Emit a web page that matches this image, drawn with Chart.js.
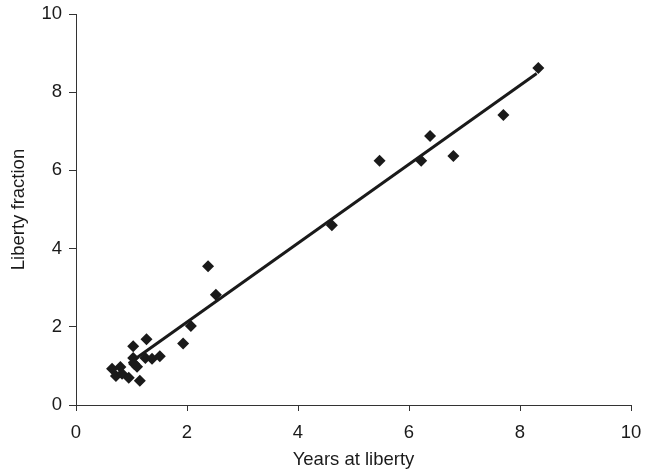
<!DOCTYPE html>
<html>
<head>
<meta charset="utf-8">
<script src="https://cdn.jsdelivr.net/npm/chart.js@4"></script>
<style>
  html, body { margin: 0; padding: 0; background: #fff; }
  #wrap { width: 659px; height: 475px; }
</style>
</head>
<body>
<div id="wrap"><canvas id="c" width="659" height="475"></canvas></div>
<script>
// observed points: years at liberty vs liberty fraction
const yearsX = [0.65, 0.72, 0.80, 0.83, 0.95, 1.03, 1.03, 1.05, 1.10, 1.15, 1.27, 1.25, 1.37, 1.51,
  1.93, 2.07, 2.38, 2.52, 4.61, 5.47, 6.22, 6.38, 6.80, 7.70, 8.33];
const fractionY = [0.93, 0.74, 0.97, 0.80, 0.70, 1.50, 1.20, 1.05, 0.98, 0.62, 1.68, 1.20, 1.18, 1.25,
  1.57, 2.02, 3.55, 2.82, 4.60, 6.25, 6.25, 6.88, 6.37, 7.42, 8.62];

// fitted line end points
const trendX = [0.95, 8.30];
const trendY = [1.06, 8.48];

const axisTicks = [0, 2, 4, 6, 8, 10];

const ink = "#1a1a1a";
const axisColor = "#333";
const font = { family: "Liberation Sans, Arial, sans-serif", size: 18.5 };

const points = yearsX.map((x, i) => ({ x: x, y: fractionY[i] }));
const trend = trendX.map((x, i) => ({ x: x, y: trendY[i] }));

new Chart(document.getElementById("c"), {
  type: "scatter",
  data: {
    datasets: [
      {
        label: "Observed",
        data: points,
        pointStyle: "rectRot",
        pointRadius: 6,
        pointBackgroundColor: ink,
        pointBorderColor: ink,
        pointBorderWidth: 0,
        order: 2,
      },
      {
        label: "Fit",
        type: "line",
        data: trend,
        borderColor: ink,
        borderWidth: 3,
        pointRadius: 0,
        fill: false,
        order: 1,
      },
    ],
  },
  options: {
    responsive: false,
    animation: false,
    layout: { padding: { top: 14, right: 28, bottom: 0, left: 0 } },
    plugins: { legend: { display: false }, tooltip: { enabled: false } },
    scales: {
      x: {
        type: "linear",
        min: 0,
        max: 10,
        afterBuildTicks: (s) => { s.ticks = axisTicks.map((v) => ({ value: v })); },
        afterFit: (s) => { s.height = 70; s.paddingLeft = 0; s.paddingRight = 0; },
        grid: { drawOnChartArea: false, drawTicks: true, tickLength: 6, color: axisColor },
        border: { display: true, color: axisColor, width: 1 },
        ticks: { color: ink, font: font, padding: 11, maxRotation: 0 },
        title: { display: true, text: "Years at liberty", color: ink, font: font, padding: { top: 0, bottom: 4 } },
      },
      y: {
        type: "linear",
        min: 0,
        max: 10,
        afterBuildTicks: (s) => { s.ticks = axisTicks.map((v) => ({ value: v })); },
        afterFit: (s) => { s.width = 76; s.paddingTop = 0; s.paddingBottom = 0; },
        grid: { drawOnChartArea: false, drawTicks: true, tickLength: 7, color: axisColor },
        border: { display: true, color: axisColor, width: 1 },
        ticks: { color: ink, font: font, padding: 7 },
        title: { display: true, text: "Liberty fraction", color: ink, font: font, padding: { top: 8, bottom: 0 } },
      },
    },
  },
});
</script>
</body>
</html>
